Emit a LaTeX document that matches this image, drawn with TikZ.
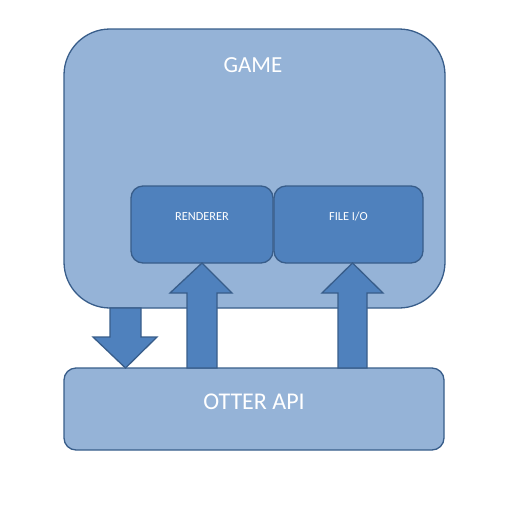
\documentclass[tikz,border=0pt]{standalone}
\usepackage{fontspec}
\setmainfont{Carlito}
\usetikzlibrary{calc}
\definecolor{lightfill}{HTML}{95B3D7}
\definecolor{darkfill}{HTML}{4F81BD}
\definecolor{edge}{HTML}{385D8A}
\tikzset{
  gamebox/.style={draw=edge, fill=lightfill, line width=1.3pt, rounded corners=46pt, minimum width=381pt, minimum height=279pt, inner sep=0pt, outer sep=0pt},
  apibox/.style={draw=edge, fill=lightfill, line width=1.3pt, rounded corners=12pt, minimum width=380pt, minimum height=82pt, inner sep=0pt, outer sep=0pt},
  modbox/.style={draw=edge, fill=darkfill, line width=1.3pt, rounded corners=12pt, inner sep=0pt, outer sep=0pt},
  modtext/.style={text=white, font=\fontsize{12.3}{14}\selectfont, inner sep=0pt, anchor=base},
  titletext/.style={text=white, font=\fontsize{23}{27}\selectfont, inner sep=0pt, anchor=base},
  apitext/.style={text=white, font=\fontsize{24}{28}\selectfont, inner sep=0pt, anchor=base},
  blockarrow/.style={draw=edge, fill=darkfill, line width=1.3pt, line join=miter}
}
\begin{document}
\begin{tikzpicture}[x=1pt,y=-1pt]
\useasboundingbox (0,0) rectangle (509,507);
\node[gamebox] (game) at (254.5,168.5) {};
\node[titletext] (gametitle) at (253,72.3) {GAME};
\node[modbox, minimum width=142pt, minimum height=77pt] (renderer) at (202,224.5) {};
\node[modbox, minimum width=149pt, minimum height=77pt] (fileio) at (348.5,224.5) {};
\node[modtext] (rendertext) at (202,220.7) {RENDERER};
\node[modtext] (fileiotext) at (348.5,220.7) {FILE I/O};
\node[apibox] (api) at (254,409) {};
\node[apitext] (apitext) at (254,409.3) {OTTER API};
% down arrow: game -> api
\draw[blockarrow] (110,308) -- (141,308) -- (141,337) -- (157,337) -- (125.5,368) -- (93,337) -- (110,337) -- cycle;
% up arrow: api -> renderer
\draw[blockarrow] (187,368) -- (187,293) -- (170,293) -- (renderer.south) -- (232,293) -- (217,293) -- (217,368) -- cycle;
% up arrow: api -> file io
\draw[blockarrow] (338,368) -- (338,293) -- (322,293) -- (352.5,263) -- (383,293) -- (367,293) -- (367,368) -- cycle;
\end{tikzpicture}
\end{document}
